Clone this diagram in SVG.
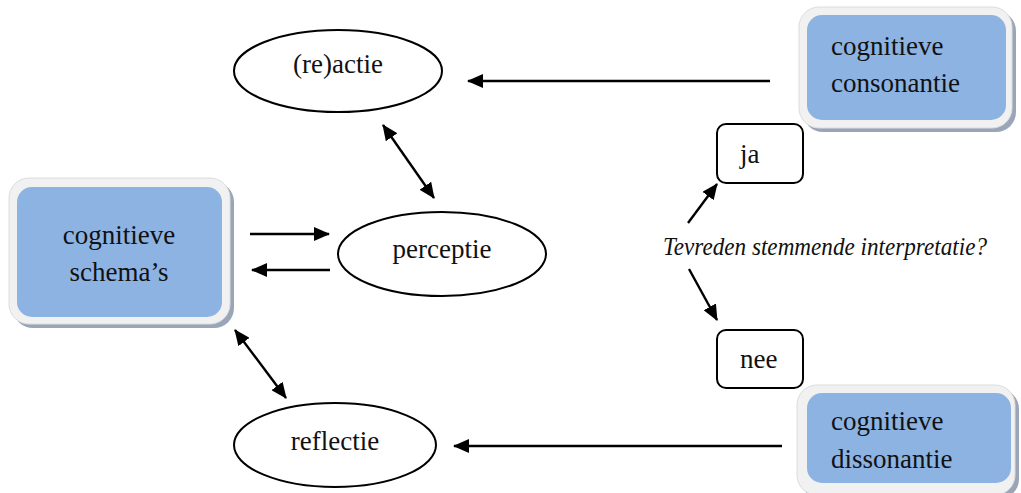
<svg xmlns="http://www.w3.org/2000/svg" width="1021" height="493" viewBox="0 0 1021 493">
<style>
.t{font-family:"Liberation Serif","DejaVu Serif",serif;font-size:27px;fill:#111}
.it{font-style:italic;font-size:25px}
.ell{fill:#fff;stroke:#000;stroke-width:2}
.sbox{fill:#fff;stroke:#000;stroke-width:2}
.shadow{fill:#9aa6b8}
.frame{fill:#f1f1f1;stroke:#dcdcdc;stroke-width:1}
.blue{fill:#8db3e2}
.c{stroke:#000;stroke-width:2.4;fill:none}
</style>
<defs>
<marker id="ah" viewBox="0 0 16 14" refX="15" refY="7" markerWidth="16" markerHeight="14" markerUnits="userSpaceOnUse" orient="auto-start-reverse">
<path d="M0,0 L16,7 L0,14 Z" fill="#000"/>
</marker>
</defs>
<rect width="1021" height="493" fill="#fff"/>

<g id="schemas">
<rect class="shadow" x="13" y="182" width="221" height="146" rx="20"/>
<rect class="frame" x="9" y="178" width="221" height="146" rx="20"/>
<rect class="blue" x="17" y="187" width="205" height="130" rx="15"/>
<text class="t" x="119" y="244" text-anchor="middle">cognitieve</text>
<text class="t" x="119" y="281" text-anchor="middle">schema’s</text>
</g>

<g id="consonantie">
<rect class="shadow" x="803" y="11" width="213" height="121" rx="20"/>
<rect class="frame" x="799" y="7" width="213" height="121" rx="20"/>
<rect class="blue" x="807" y="15" width="199" height="105" rx="15"/>
<text class="t" x="831" y="55">cognitieve</text>
<text class="t" x="831" y="92">consonantie</text>
</g>

<g id="dissonantie">
<rect class="shadow" x="801" y="389" width="218" height="110" rx="20"/>
<rect class="frame" x="797" y="385" width="218" height="110" rx="20"/>
<rect class="blue" x="807" y="393" width="204" height="90" rx="15"/>
<text class="t" x="831" y="430">cognitieve</text>
<text class="t" x="831" y="468">dissonantie</text>
</g>

<g id="reactie">
<ellipse class="ell" cx="338" cy="71" rx="104" ry="41"/>
<text class="t" x="338" y="73" text-anchor="middle">(re)actie</text>
</g>

<g id="perceptie">
<ellipse class="ell" cx="442" cy="254" rx="104" ry="42"/>
<text class="t" x="442" y="258" text-anchor="middle">perceptie</text>
</g>

<g id="reflectie">
<ellipse class="ell" cx="335" cy="445" rx="101" ry="42"/>
<text class="t" x="335" y="450" text-anchor="middle">reflectie</text>
</g>

<g id="ja">
<rect class="sbox" x="717" y="124" width="86" height="59" rx="9"/>
<text class="t" x="740" y="163">ja</text>
</g>

<g id="nee">
<rect class="sbox" x="717" y="330" width="86" height="58" rx="9"/>
<text class="t" x="740" y="368">nee</text>
</g>

<g id="vraag">
<text class="t it" x="663" y="255" textLength="324" lengthAdjust="spacingAndGlyphs">Tevreden stemmende interpretatie?</text>
</g>

<g id="connectors">
<line class="c" x1="770" y1="81" x2="468" y2="81" marker-end="url(#ah)"/>
<line class="c" x1="782" y1="446" x2="454" y2="446" marker-end="url(#ah)"/>
<line class="c" x1="383" y1="125" x2="434" y2="198" marker-start="url(#ah)" marker-end="url(#ah)"/>
<line class="c" x1="235" y1="330" x2="286" y2="398" marker-start="url(#ah)" marker-end="url(#ah)"/>
<line class="c" x1="250" y1="234" x2="329" y2="234" marker-end="url(#ah)"/>
<line class="c" x1="330" y1="270" x2="252" y2="270" marker-end="url(#ah)"/>
<line class="c" x1="688" y1="223" x2="717" y2="184" marker-end="url(#ah)"/>
<line class="c" x1="689" y1="269" x2="717" y2="320" marker-end="url(#ah)"/>
</g>
</svg>
